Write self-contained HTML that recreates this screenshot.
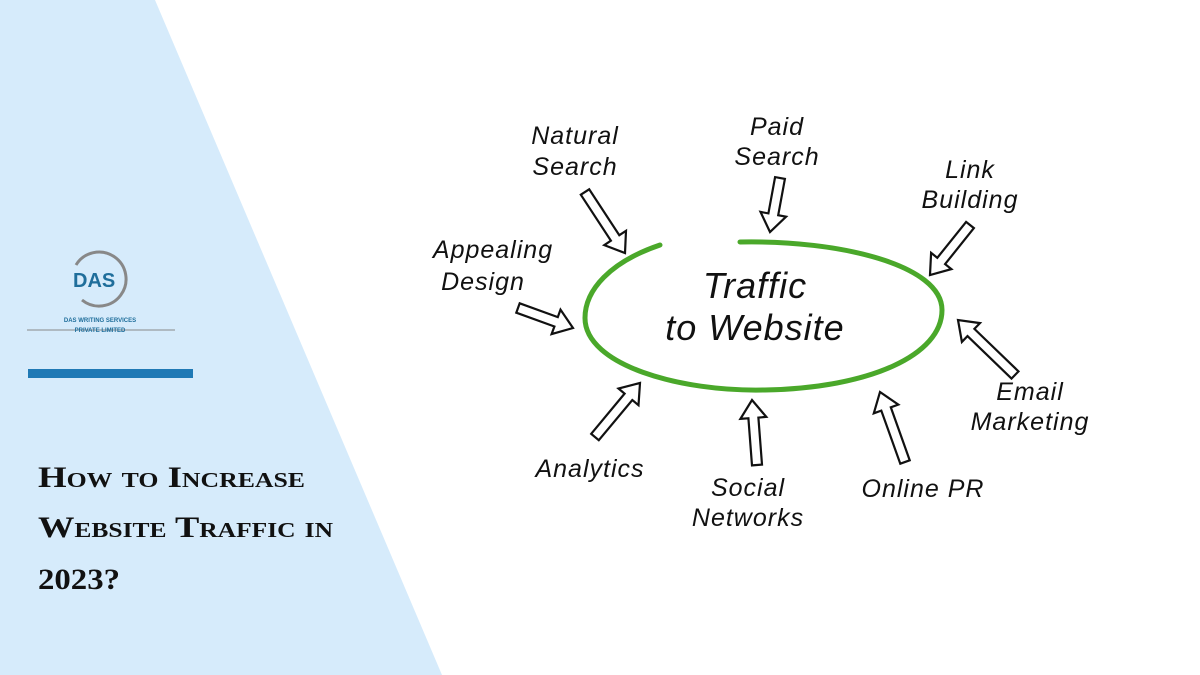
<!DOCTYPE html>
<html><head><meta charset="utf-8"><style>
html,body{margin:0;padding:0;width:1200px;height:675px;overflow:hidden;background:#fff;font-family:"Liberation Sans",sans-serif}
svg{position:absolute;left:0;top:0}
.t{font-family:"Liberation Serif",serif;font-weight:bold;font-size:30px;fill:#111;font-variant:small-caps}
.h{font-family:"Liberation Sans",sans-serif;font-style:italic;font-size:25px;fill:#111;letter-spacing:1px}
</style></head><body>
<svg width="1200" height="675" id="s">
<polygon points="0,0 155,0 442,675 0,675" fill="#d6ebfb"/>
<path d="M76,265 A27,27 0 1 1 82,300" fill="none" stroke="#888" stroke-width="3"/>
<text x="73" y="287" font-family="Liberation Sans" font-weight="bold" font-size="20" fill="#1f6e9b">DAS</text>
<text x="100" y="322" text-anchor="middle" font-size="6" fill="#1f6e9b" font-weight="bold">DAS WRITING SERVICES</text>
<line x1="27" y1="330" x2="175" y2="330" stroke="#888" stroke-width="1"/>
<text x="100" y="332" text-anchor="middle" font-size="6" fill="#1f6e9b" font-weight="bold">PRIVATE LIMITED</text>
<rect x="28" y="369" width="165" height="9" fill="#1f79b5"/>
<text class="t" x="38" y="487" textLength="267" lengthAdjust="spacingAndGlyphs">How to Increase</text>
<text class="t" x="38" y="537" textLength="295" lengthAdjust="spacingAndGlyphs">Website Traffic in</text>
<text class="t" x="38" y="589" textLength="82" lengthAdjust="spacingAndGlyphs">2023?</text>
<path d="M660,245 C610,262 585,290 585,318 C585,365 680,392 765,390 C870,388 942,355 942,310 C942,265 840,240 740,242" fill="none" stroke="#4aa82a" stroke-width="5" stroke-linecap="round"/>
<text x="755" y="298" text-anchor="middle" class="h" style="font-size:36px">Traffic</text>
<text x="755" y="340" text-anchor="middle" class="h" style="font-size:36px">to Website</text>
<text class="h" x="575" y="144" text-anchor="middle">Natural</text>
<text class="h" x="575" y="175" text-anchor="middle">Search</text>
<text class="h" x="777" y="135" text-anchor="middle">Paid</text>
<text class="h" x="777" y="165" text-anchor="middle">Search</text>
<text class="h" x="970" y="178" text-anchor="middle">Link</text>
<text class="h" x="970" y="208" text-anchor="middle">Building</text>
<text class="h" x="493" y="258" text-anchor="middle">Appealing</text>
<text class="h" x="483" y="290" text-anchor="middle">Design</text>
<text class="h" x="1030" y="400" text-anchor="middle">Email</text>
<text class="h" x="1030" y="430" text-anchor="middle">Marketing</text>
<text class="h" x="590" y="477" text-anchor="middle">Analytics</text>
<text class="h" x="748" y="496" text-anchor="middle">Social</text>
<text class="h" x="748" y="526" text-anchor="middle">Networks</text>
<text class="h" x="923" y="497" text-anchor="middle">Online PR</text>
<g id="arrows" fill="#fff" stroke="#111" stroke-width="2.2" stroke-linejoin="miter"></g>
</svg>
<script>
var A=[[585,192,625,253],[780,178,770,232],[970,225,930,275],[518,308,573,328],[1015,375,958,320],[595,437,640,383],[757,465,752,400],[905,462,880,392]];
var g=document.getElementById('arrows'),d='';
A.forEach(function(a){var dx=a[2]-a[0],dy=a[3]-a[1],L=Math.hypot(dx,dy),ux=dx/L,uy=dy/L,px=-uy,py=ux,w=5,hw=13,hl=18;
function P(t,s){return (a[0]+ux*t+px*s).toFixed(1)+','+(a[1]+uy*t+py*s).toFixed(1)}
var b=L-hl;d+='<polygon points="'+[P(0,w),P(b,w),P(b,hw),P(L,0),P(b,-hw),P(b,-w),P(0,-w)].join(' ')+'"/>';});
g.innerHTML=d;
</script>
</body></html>
